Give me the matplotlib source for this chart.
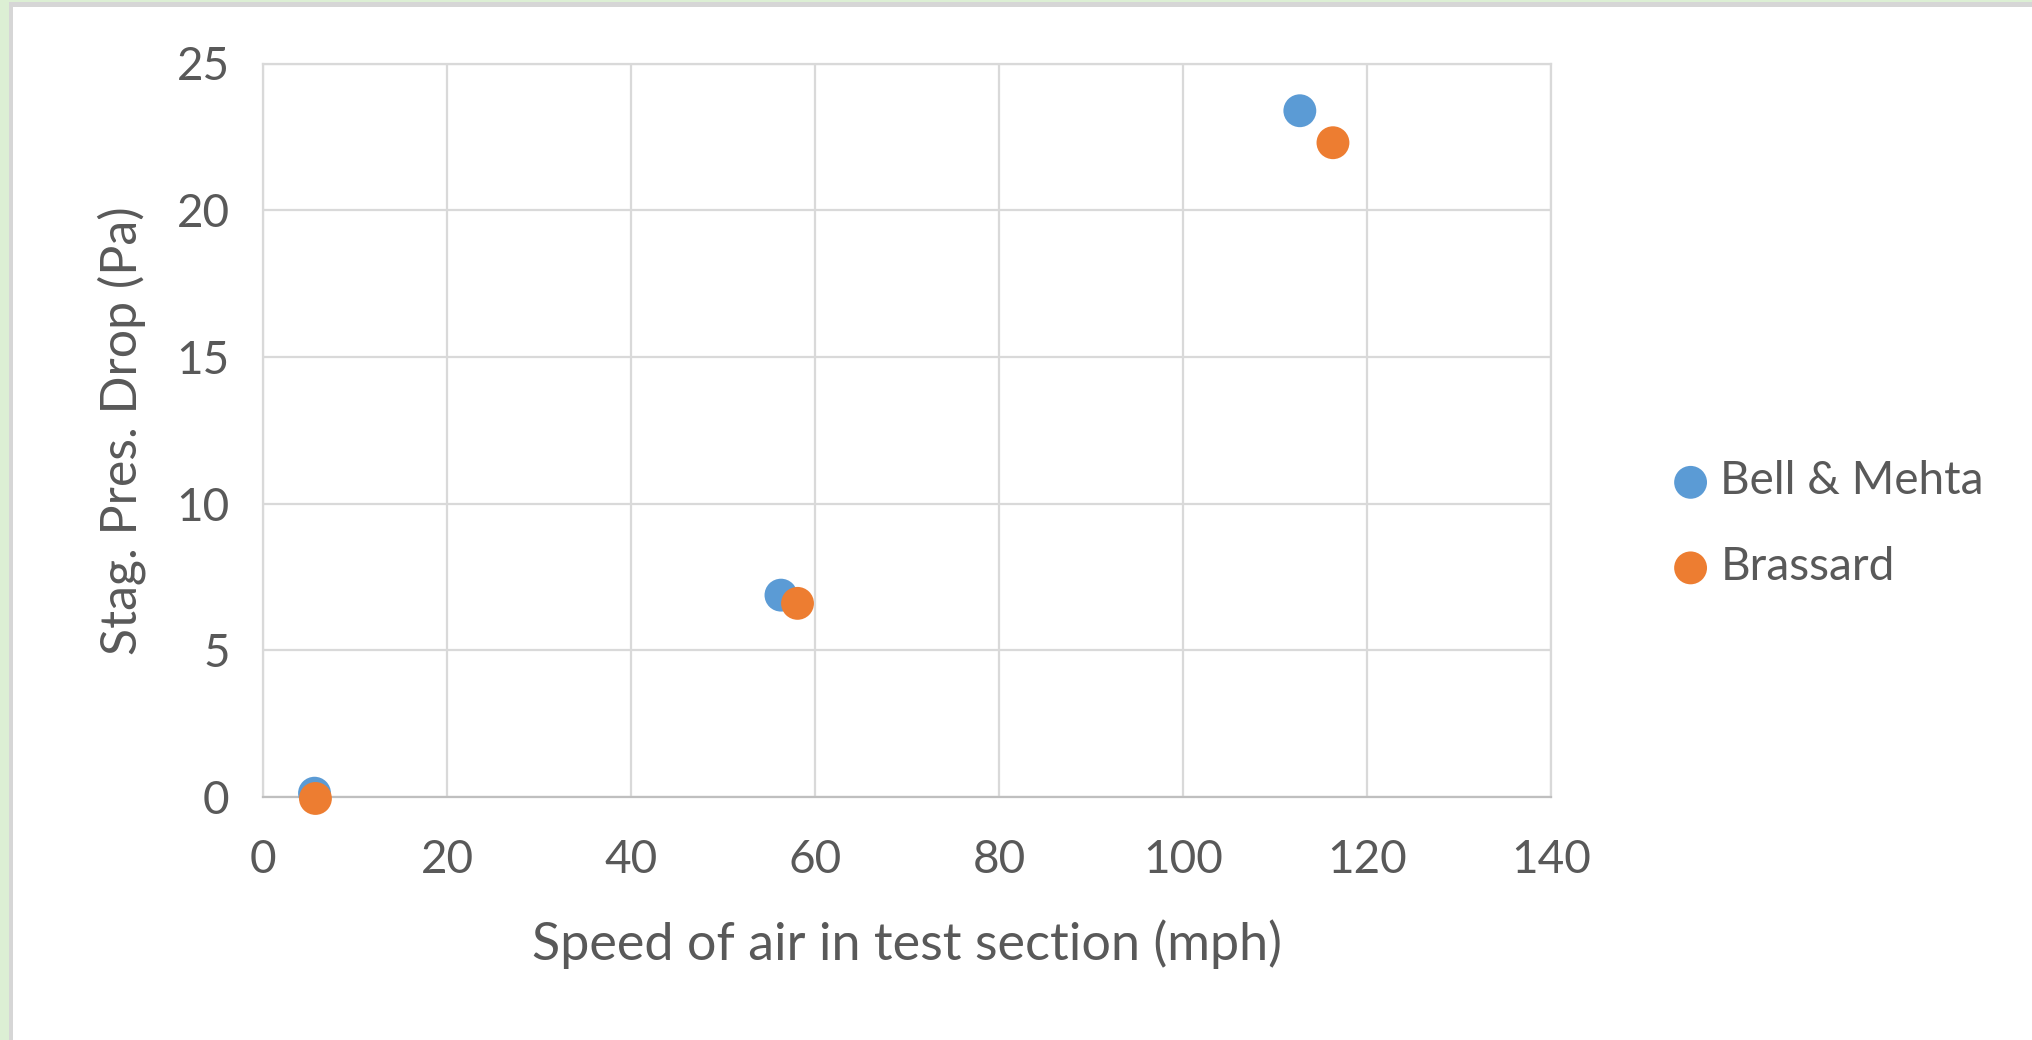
# Scatter of stagnation pressure drop against test section air speed.
import numpy as np
import matplotlib.pyplot as plt
from matplotlib.patches import Rectangle

# ---------------------------------------------------------------------------------------------- #
# Data.
# ---------------------------------------------------------------------------------------------- #
SeriesNames = ['Bell & Mehta', 'Brassard']
BellSpeed = [5.6, 56.3, 112.7]
BellDrop = [0.13, 6.88, 23.39]
BrassardSpeed = [5.7, 58.1, 116.3]
BrassardDrop = [-0.05, 6.60, 22.30]
XTicks = [0, 20, 40, 60, 80, 100, 120, 140]
YTicks = [0, 5, 10, 15, 20, 25]

# ---------------------------------------------------------------------------------------------- #
# Plot properties.
# ---------------------------------------------------------------------------------------------- #
W, H = 2033, 1040
FontType = ['Lato', 'DejaVu Sans']
TextColor = '#595959'
GridColor = '#d9d9d9'
Colors = ['#5b9bd5', '#ed7d31']
plt.rcParams['font.family'] = FontType

fig = plt.figure(figsize=(W / 100, H / 100), dpi=100)
fig.patch.set_facecolor('white')

# window decorations at the top and left edges
fig.patches.append(Rectangle((0, 0), 9 / W, 1, transform=fig.transFigure,
                             facecolor='#dcefd4', edgecolor='none', zorder=0))
fig.patches.append(Rectangle((9 / W, 0), 4 / W, 1 - 2 / H, transform=fig.transFigure,
                             facecolor='#d6d6d6', edgecolor='none', zorder=0))
fig.patches.append(Rectangle((0, 1 - 2 / H), 1, 2 / H, transform=fig.transFigure,
                             facecolor='#dcefd4', edgecolor='none', zorder=0))
fig.patches.append(Rectangle((9 / W, 1 - 7 / H), 1, 5 / H, transform=fig.transFigure,
                             facecolor='#d6d6d6', edgecolor='none', zorder=0))

ax = fig.add_axes([263 / W, 1 - 797 / H, (1551 - 263) / W, (797 - 63.5) / H])

for i, (xs, ys) in enumerate([(BellSpeed, BellDrop), (BrassardSpeed, BrassardDrop)]):
    ax.scatter(xs, ys, s=560, color=Colors[i], edgecolors='none', label=SeriesNames[i],
               zorder=3, clip_on=False)

ax.set_xlim(0, 140)
ax.set_ylim(0, 25)
ax.set_xticks(XTicks)
ax.set_yticks(YTicks)
ax.grid(True, color=GridColor, linewidth=1.6)
ax.set_axisbelow(True)
for s in ax.spines.values():
    s.set_color(GridColor)
    s.set_linewidth(1.6)
ax.spines['bottom'].set_color('#bfbfbf')
ax.tick_params(length=0, labelsize=33, labelcolor=TextColor)
ax.tick_params(axis='x', pad=30)
ax.tick_params(axis='y', pad=24)

ax.set_xlabel('Speed of air in test section (mph)', fontsize=37.5, color=TextColor, labelpad=28)
ax.set_ylabel('Stag. Pres. Drop (Pa)', fontsize=36, color=TextColor, labelpad=22)

leg = ax.legend(loc='center left', bbox_to_anchor=(1.055, 0.372), frameon=False, fontsize=33,
                handletextpad=-0.35, labelspacing=0.95, markerscale=1.0, borderpad=0)
for t in leg.get_texts():
    t.set_color(TextColor)

fig.savefig('out.png', dpi=100)
